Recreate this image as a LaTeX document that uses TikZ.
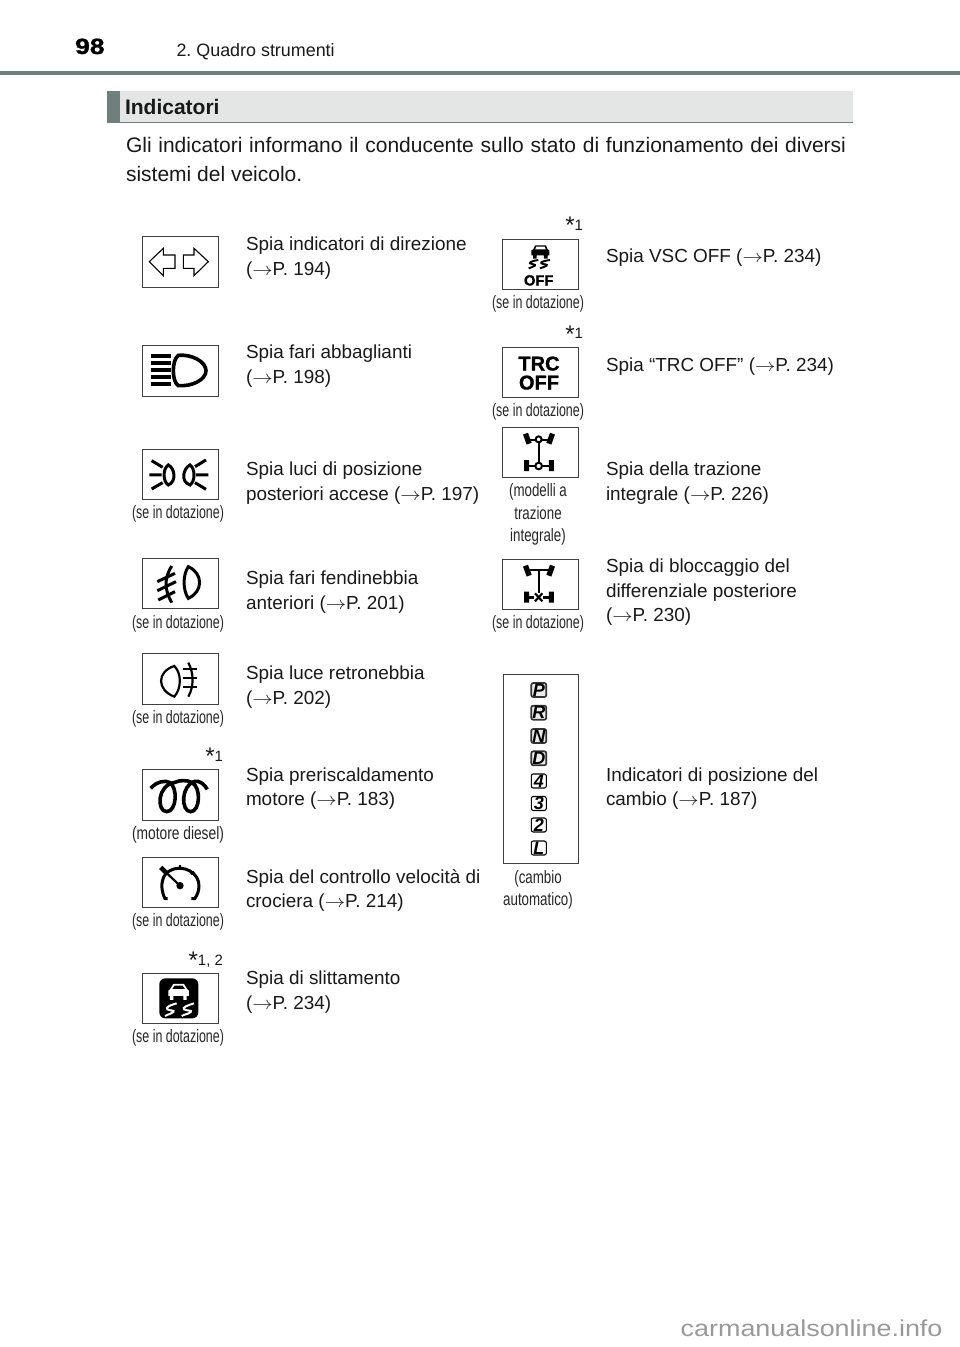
\documentclass[tikz,border=0pt]{standalone}
\usepackage{fontspec}
\setmainfont{Liberation Sans}
\newfontfamily\condf[FakeStretch=0.74]{Liberation Sans}
\newfontfamily\condg[FakeStretch=0.69]{Liberation Sans}
\newfontfamily\widef[FakeStretch=1.17]{Liberation Sans}
\newfontfamily\heavyf[FakeBold=1.2]{Liberation Sans Bold}
\definecolor{rulec}{HTML}{6F7F7C}
\definecolor{barc}{HTML}{E3E6E5}
\newcommand{\arr}{\scalebox{1.18}[1.05]{$\rightarrow$}}
\tikzset{
 x=1pt,y=-1pt,
 txt/.style={inner sep=0pt,outer sep=0pt,anchor=base west,font=\fontsize{18.9}{18.9}\selectfont,text=black!90},
 cond/.style={inner sep=0pt,outer sep=0pt,anchor=base,font=\condf\fontsize{18}{18}\selectfont,text=black!85},
 condn/.style={cond,font=\condg\fontsize{18}{18}\selectfont},
 starr/.style={inner sep=0pt,outer sep=0pt,anchor=base east,text=black!90},
 iconbox/.style={draw=black!75,line width=0.9pt,fill=white},
 ink/.style={draw=black,line width=3.6pt,line cap=butt},
 inkb/.style={draw=black,line width=3pt,line cap=butt},
 fine/.style={draw=black,line width=2.2pt},
 gearbox/.style={draw=black,line width=1.1pt,rounded corners=2pt,fill=white,minimum width=15pt,minimum height=14pt,inner sep=0pt,anchor=center,font=\fontsize{18}{18}\selectfont\bfseries\itshape},
 gearboxg/.style={gearbox,draw=black!80,line width=1.7pt,fill=black!8},
}
\newcommand{\st}[1]{{\raisebox{-3.5pt}{\fontsize{24}{24}\selectfont*}\fontsize{15}{15}\selectfont #1}}
\begin{document}
\frenchspacing
\begin{tikzpicture}
\useasboundingbox (0,0) rectangle (960,1347);
\fill[white] (0,0) rectangle (960,1347);
% header
\node[inner sep=0pt,anchor=base west,font=\heavyf\fontsize{22}{22}\selectfont] (pagenum) at (75,54) {\scalebox{1.2}[1]{98}};
\node[txt,font=\fontsize{17.9}{18}\selectfont] (chapter) at (176.5,56) {2. Quadro strumenti};
\fill[rulec] (0,70.8) rectangle (960,74.5);
\fill[barc] (107,91) rectangle (853,122);
\fill[rulec] (107,91) rectangle (120,123);
\fill[rulec] (107,122) rectangle (853,123);
\node[txt,font=\fontsize{21}{21}\selectfont\bfseries] (title) at (125,114.3) {Indicatori};
\node[txt,font=\fontsize{21}{21}\selectfont] (intro1) at (126,152) {\hbox to 720pt{Gli\hfil indicatori\hfil informano\hfil il\hfil conducente\hfil sullo\hfil stato\hfil di\hfil funzionamento\hfil dei\hfil diversi}};
\node[txt,font=\fontsize{21}{21}\selectfont] (intro2) at (126,181) {sistemi del veicolo.};
% boxes
\draw[iconbox] (142,236) rectangle (218,287);
\draw[iconbox] (142,345) rectangle (218,396);
\draw[iconbox] (142,449) rectangle (218,499);
\draw[iconbox] (142,558) rectangle (218,608.5);
\draw[iconbox] (142,653) rectangle (218,704);
\draw[iconbox] (142,769) rectangle (218,820);
\draw[iconbox] (142,857) rectangle (218,907);
\draw[iconbox] (142,973) rectangle (218,1023);
\draw[iconbox] (502,239) rectangle (578,289);
\draw[iconbox] (502,347) rectangle (578,397);
\draw[iconbox] (502,427) rectangle (578,477);
\draw[iconbox] (502,559) rectangle (578,609);
\draw[iconbox] (503,674) rectangle (578,863);
% left icons, zoom coordinates
\begin{scope}[shift={(120,210)},x=0.3333pt,y=-0.3333pt]
 \draw[black,line width=1.1pt,line join=miter] (88,155)--(130,115)--(130,135)--(165,135)--(165,175)--(130,175)--(130,197)--cycle;
 \draw[black,line width=1.1pt] (265,155)--(222,115)--(222,135)--(190,135)--(190,175)--(222,175)--(222,197)--cycle;
 \foreach \yy in {438,459,480,501,522} \draw[ink] (92,\yy)--(152,\yy);
 \draw[ink] (175,436) .. controls (215,432) and (258,455) .. (258,482) .. controls (258,510) and (215,530) .. (175,527) .. controls (155,515) and (155,450) .. cycle;
 \draw[inkb] (145,765) .. controls (165,775) and (170,815) .. (145,825) .. controls (128,815) and (128,775) .. cycle;
 \draw[inkb] (210,765) .. controls (190,775) and (180,815) .. (210,825) .. controls (226,815) and (226,775) .. cycle;
 \draw[inkb] (95,752)--(128,772) (88,795)--(125,795) (95,837)--(128,818);
 \draw[inkb] (258,750)--(225,770) (265,795)--(228,795) (258,838)--(225,818);
\end{scope}
\begin{scope}[shift={(120,540)},x=0.3333pt,y=-0.3333pt]
 \draw[inkb] (205,80) .. controls (250,100) and (250,155) .. (205,175) .. controls (188,150) and (188,105) .. cycle;
 \draw[inkb] (155,78) .. controls (130,120) and (135,150) .. (155,188);
 \draw[inkb] (112,125)--(165,100) (112,152)--(168,125) (115,180)--(165,155);
 \draw[fine] (163,378) .. controls (110,395) and (110,450) .. (163,470) .. controls (185,445) and (185,400) .. cycle;
 \draw[fine] (205,368) .. controls (222,400) and (222,440) .. (205,470);
 \draw[fine] (190,388)--(232,388) (190,415)--(232,415) (190,440)--(232,440);
 \draw[ink] (92,745) .. controls (110,725) and (135,720) .. (148,727) .. controls (175,742) and (170,815) .. (140,815) .. controls (110,815) and (110,735) .. (165,727) .. controls (180,720) and (200,720) .. (215,727) .. controls (245,742) and (240,815) .. (212,815) .. controls (182,815) and (182,735) .. (225,724) .. controls (240,722) and (252,732) .. (262,748);
\end{scope}
\begin{scope}[shift={(120,840)},x=0.3333pt,y=-0.3333pt]
 \draw[inkb] (143,176)--(135,176) .. controls (115,135) and (130,100) .. (150,92) .. controls (190,70) and (240,100) .. (237,140) .. controls (236,155) and (232,165) .. (224,176)--(214,176);
 \draw[fine] (180,75)--(180,88) (222,95)--(213,103);
 \draw[fine] (180,137)--(125,85);
 \draw[ink,line width=4.5pt] (122,82)--(138,98);
 \fill[black] (180,137) circle[radius=11];
 \fill[black,rounded corners=6pt] (118,415) rectangle (235,535);
 \fill[white] (150,448)--(160,432)--(192,432)--(202,448)--(207,452)--(207,468)--(200,468)--(200,480)--(190,480)--(190,468)--(160,468)--(160,480)--(150,480)--(150,468)--(145,468)--(145,452)--cycle;
 \fill[black] (157,447)--(164,437)--(188,437)--(195,447)--cycle;
 \draw[white,line width=2pt] (170,490) .. controls (150,495) and (135,503) .. (142,508) .. controls (150,513) and (165,510) .. (160,516) .. controls (155,522) and (145,522) .. (135,528);
 \draw[white,line width=2pt] (222,490) .. controls (205,495) and (185,503) .. (192,508) .. controls (200,513) and (218,510) .. (212,516) .. controls (207,522) and (195,522) .. (185,528);
\end{scope}
% right icons
\begin{scope}[shift={(480,210)},x=0.3333pt,y=-0.3333pt]
 \fill[black] (160,118)--(165,106)--(198,106)--(203,118)--(208,121)--(208,136)--(203,136)--(203,146)--(192,146)--(192,136)--(170,136)--(170,146)--(159,146)--(159,136)--(154,136)--(154,121)--cycle;
 \fill[white] (166,118)--(169,110)--(194,110)--(197,118)--cycle;
 \draw[black,line width=1.9pt] (175,150) .. controls (160,152) and (148,156) .. (150,160) .. controls (155,164) and (168,162) .. (165,167) .. controls (160,171) and (152,172) .. (146,175);
 \draw[black,line width=1.9pt] (210,150) .. controls (195,152) and (180,156) .. (184,160) .. controls (190,164) and (205,162) .. (200,167) .. controls (195,171) and (187,172) .. (180,175);
\end{scope}
\node[inner sep=0pt,anchor=base,font=\heavyf\fontsize{14.7}{14.7}\selectfont] (off) at (538.7,285.5) {OFF};
\node[inner sep=0pt,anchor=base,font=\heavyf\fontsize{20}{20}\selectfont] (trc) at (539,370.5) {TRC};
\node[inner sep=0pt,anchor=base,font=\heavyf\fontsize{20}{20}\selectfont] (off2) at (539,389.5) {OFF};
\begin{scope}[shift={(480,420)},x=0.3333pt,y=-0.3333pt]
 % 4WD
 \draw[fine] (176,60)--(176,138);
 \draw[fine,line width=2.8pt] (145,60)--(210,60) (147,138)--(207,138);
 \fill[black,rotate around={20:(142,56)}] (134,40) rectangle (150,72);
 \fill[black,rotate around={-20:(212,56)}] (204,40) rectangle (220,72);
 \fill[black] (132,120) rectangle (147,153) (207,120) rectangle (222,153);
 \draw[black,line width=2pt,fill=white] (176,58) circle[radius=9];
 \draw[black,line width=2pt,fill=white] (176,138) circle[radius=10];
 % diff
 \draw[fine] (176,450)--(176,532);
 \draw[fine,line width=2.8pt] (150,450)--(205,450) (147,532)--(207,532);
 \fill[black,rotate around={20:(142,452)}] (134,436) rectangle (150,468);
 \fill[black,rotate around={-20:(212,452)}] (204,436) rectangle (220,468);
 \fill[black] (132,515) rectangle (147,548) (207,515) rectangle (222,548);
 \fill[white] (162,518) rectangle (190,546);
 \draw[black,line width=2.2pt] (165,520)--(187,544) (187,520)--(165,544);
\end{scope}
% gear
\node[gearboxg] (gp) at (538.8,690) {P};
\node[gearboxg] (gr) at (538.8,712.7) {R};
\node[gearboxg] (gn) at (538.8,736) {N};
\node[gearboxg] (gd) at (538.8,758.3) {D};
\node[gearbox] (g4) at (538.8,781) {4};
\node[gearbox] (g3) at (538.8,803.5) {3};
\node[gearbox] (g2) at (538.8,825) {2};
\node[gearbox] (gl) at (538.8,848) {L};
% left text
\node[txt] (a1) at (246,250) {Spia indicatori di direzione};
\node[txt] (a2) at (246,275) {(\arr P. 194)};
\node[txt] (b1) at (246,358) {Spia fari abbaglianti};
\node[txt] (b2) at (246,383) {(\arr P. 198)};
\node[txt] (c1) at (246,475) {Spia luci di posizione};
\node[txt] (c2) at (246,500) {posteriori accese (\arr P. 197)};
\node[txt] (d1) at (246,584) {Spia fari fendinebbia};
\node[txt] (d2) at (246,609) {anteriori (\arr P. 201)};
\node[txt] (e1) at (246,679) {Spia luce retronebbia};
\node[txt] (e2) at (246,704) {(\arr P. 202)};
\node[txt] (f1) at (246,781) {Spia preriscaldamento};
\node[txt] (f2) at (246,805.5) {motore (\arr P. 183)};
\node[txt] (g1) at (246,883) {Spia del controllo velocità di};
\node[txt] (g5) at (246,907.5) {crociera (\arr P. 214)};
\node[txt] (h1) at (246,984) {Spia di slittamento};
\node[txt] (h2) at (246,1009) {(\arr P. 234)};
% right text
\node[txt] (i1) at (606,262) {Spia VSC OFF (\arr P. 234)};
\node[txt] (j1) at (606,371) {Spia “TRC OFF” (\arr P. 234)};
\node[txt] (k1) at (606,475) {Spia della trazione};
\node[txt] (k2) at (606,500) {integrale (\arr P. 226)};
\node[txt] (l1) at (606,572) {Spia di bloccaggio del};
\node[txt] (l2) at (606,597) {differenziale posteriore};
\node[txt] (l3) at (606,621) {(\arr P. 230)};
\node[txt] (m1) at (606,781) {Indicatori di posizione del};
\node[txt] (m2) at (606,805.5) {cambio (\arr P. 187)};
% small captions
\node[condn] (c01) at (538,308) {(se in dotazione)};
\node[condn] (c02) at (538,416.5) {(se in dotazione)};
\node[condn] (c03) at (178,518.5) {(se in dotazione)};
\node[cond] (c04) at (538,496) {(modelli a};
\node[cond] (c05) at (538,519) {trazione};
\node[cond] (c06) at (538,541) {integrale)};
\node[condn] (c07) at (178,628) {(se in dotazione)};
\node[condn] (c08) at (538,628) {(se in dotazione)};
\node[condn] (c09) at (178,723) {(se in dotazione)};
\node[cond] (c10) at (178,839.5) {\scalebox{1.035}[1]{(motore diesel)}};
\node[condn] (c11) at (178,926) {(se in dotazione)};
\node[condn] (c12) at (178,1042.5) {(se in dotazione)};
\node[cond] (c13) at (538,883) {(cambio};
\node[cond] (c14) at (538,905) {automatico)};
% stars
\node[starr] (s1) at (583,230) {\st{1}};
\node[starr] (s2) at (583,338.5) {\st{1}};
\node[starr] (s3) at (223,761) {\st{1}};
\node[starr] (s4) at (223,965) {\st{1, 2}};
% watermark
\node[inner sep=0pt,anchor=base west,font=\widef\fontsize{23}{23}\selectfont,text=black!40] (mark) at (680.5,1336.7) {carmanualsonline.info};
\end{tikzpicture}
\end{document}
